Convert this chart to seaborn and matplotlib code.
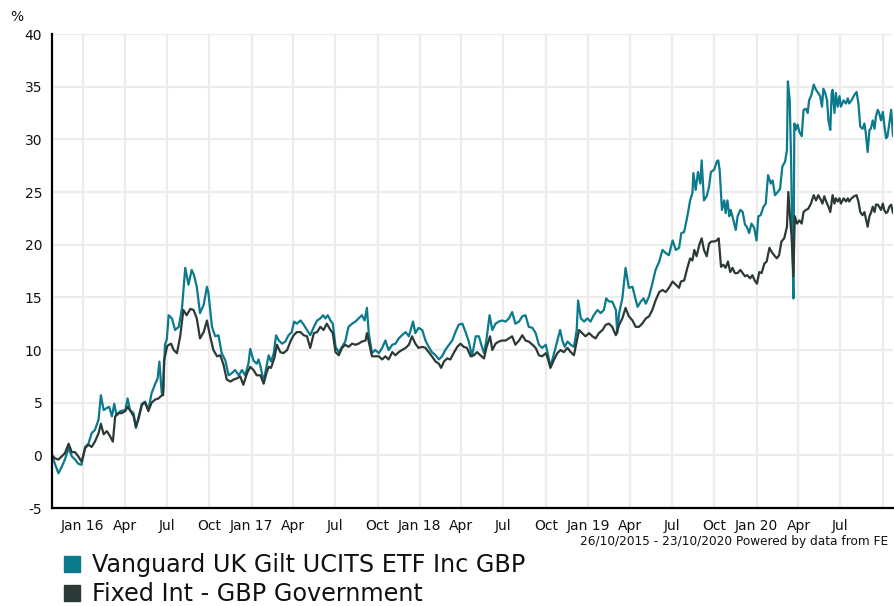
import matplotlib
matplotlib.use("Agg")
import matplotlib.pyplot as plt
import seaborn as sns
import pandas as pd
from matplotlib.lines import Line2D

# ---------------- data (cumulative % performance, days since 26/10/2015) ----------------
start_date = "2015-10-26"
end_date = "2020-10-23"

series_names = ["Vanguard UK Gilt UCITS ETF Inc GBP", "Fixed Int - GBP Government"]

teal_days = [
    0, 7, 14, 21, 28, 36, 43, 50, 57, 64,
    72, 79, 86, 93, 101, 106, 112, 119, 124, 130,
    135, 140, 148, 159, 164, 169, 177, 182, 188, 195,
    202, 209, 216, 224, 229, 233, 238, 241, 245, 249,
    253, 260, 267, 275, 282, 289, 296, 303, 308, 314,
    321, 329, 336, 339, 347, 354, 361, 368, 376, 383,
    390, 397, 405, 412, 419, 426, 430, 437, 444, 448,
    453, 459, 465, 470, 475, 481, 486, 492, 499, 506,
    513, 520, 525, 531, 539, 546, 553, 560, 568, 575,
    582, 588, 593, 598, 604, 609, 615, 622, 629, 636,
    643, 651, 658, 665, 672, 678, 683, 687, 694, 701,
    709, 716, 723, 730, 738, 745, 752, 759, 767, 774,
    783, 788, 795, 803, 810, 817, 824, 832, 839, 846,
    853, 861, 868, 875, 882, 890, 897, 904, 911, 919,
    926, 931, 937, 942, 949, 955, 962, 969, 976, 984,
    991, 998, 1005, 1013, 1020, 1027, 1034, 1042, 1049, 1056,
    1063, 1071, 1076, 1081, 1089, 1096, 1102, 1107, 1112, 1118,
    1125, 1132, 1138, 1141, 1147, 1154, 1161, 1168, 1175, 1183,
    1190, 1197, 1202, 1208, 1215, 1223, 1226, 1230, 1237, 1244,
    1251, 1259, 1264, 1270, 1277, 1283, 1288, 1295, 1302, 1309,
    1317, 1324, 1331, 1338, 1346, 1353, 1360, 1365, 1371, 1378,
    1384, 1389, 1391, 1396, 1401, 1406, 1409, 1414, 1420, 1425,
    1429, 1436, 1442, 1445, 1448, 1453, 1458, 1461, 1465, 1469,
    1472, 1478, 1483, 1487, 1493, 1498, 1503, 1507, 1512, 1517,
    1523, 1528, 1532, 1537, 1543, 1548, 1553, 1559, 1563, 1568,
    1574, 1579, 1584, 1590, 1594, 1596, 1600, 1603, 1605, 1608,
    1610, 1613, 1617, 1621, 1626, 1630, 1635, 1639, 1642, 1647,
    1652, 1657, 1662, 1666, 1670, 1673, 1677, 1681, 1684, 1688,
    1691, 1693, 1697, 1700, 1704, 1708, 1711, 1717, 1722, 1726,
    1729, 1734, 1740, 1745, 1749, 1753, 1758, 1762, 1765, 1769,
    1773, 1776, 1780, 1784, 1787, 1791, 1794, 1798, 1802, 1805,
    1809, 1812, 1816, 1820, 1824,
]
teal_vals = [
    0.0, -0.9, -1.7, -1.1, -0.4, 0.7, -0.1, -0.4, -0.8, -0.9,
    0.8, 1.1, 2.1, 2.4, 3.4, 5.7, 4.3, 4.5, 4.6, 3.7,
    4.9, 3.8, 4.2, 4.3, 5.4, 4.3, 4.0, 2.6, 3.7, 4.9,
    5.1, 4.3, 5.9, 6.8, 7.3, 8.9, 5.9, 6.0, 10.5, 11.0,
    13.3, 13.0, 11.9, 12.2, 14.0, 17.8, 16.2, 17.6, 17.1, 16.0,
    13.5, 14.3, 16.0, 15.5, 12.2, 11.3, 11.4, 9.7, 9.0, 7.6,
    7.8, 8.1, 7.6, 8.1, 7.6, 8.7, 10.1, 9.0, 8.7, 9.1,
    8.3, 7.0, 8.4, 9.5, 8.9, 9.7, 11.4, 10.9, 10.6, 10.8,
    11.4, 11.7, 12.7, 12.5, 12.8, 12.4, 11.9, 11.4, 12.2, 12.8,
    13.0, 13.3, 13.0, 13.3, 12.8, 12.5, 10.3, 9.8, 10.3, 10.8,
    12.2, 12.5, 12.7, 13.0, 13.3, 12.8, 14.0, 11.6, 9.7, 10.0,
    9.7, 10.2, 10.9, 10.0, 10.5, 10.6, 11.1, 11.4, 11.7, 11.3,
    12.7, 11.6, 12.1, 11.9, 10.9, 10.3, 9.8, 9.5, 9.1, 9.4,
    10.0, 10.5, 10.9, 11.7, 12.4, 12.5, 11.7, 10.8, 9.4, 11.3,
    11.3, 10.5, 9.7, 10.9, 13.3, 11.9, 12.5, 12.7, 12.8, 12.7,
    13.0, 13.6, 12.5, 12.7, 13.2, 13.3, 12.2, 12.1, 11.6, 10.5,
    10.2, 10.5, 9.5, 8.4, 9.7, 10.9, 11.9, 10.9, 10.3, 10.8,
    10.5, 10.3, 11.9, 14.7, 13.0, 12.7, 13.0, 12.7, 13.3, 13.8,
    13.5, 13.8, 14.9, 14.6, 14.6, 13.8, 11.6, 13.5, 14.9, 17.8,
    15.9, 16.0, 15.1, 14.1, 14.6, 14.9, 14.4, 15.1, 16.3, 17.6,
    18.4, 19.5, 19.2, 19.0, 20.4, 19.5, 19.7, 21.1, 21.2, 22.7,
    24.2, 24.9, 26.8, 25.2, 26.9, 25.8, 28.0, 24.2, 24.6, 25.5,
    26.9, 27.1, 27.9, 28.0, 27.1, 23.3, 24.2, 23.0, 24.2, 22.7,
    23.3, 22.3, 21.4, 22.7, 23.3, 23.1, 21.9, 21.7, 21.1, 22.0,
    21.6, 20.4, 22.7, 22.8, 23.6, 23.9, 26.6, 25.8, 26.1, 24.7,
    25.0, 25.3, 27.4, 27.9, 29.0, 35.5, 33.7, 28.0, 22.3, 14.9,
    31.5, 30.9, 31.4, 30.7, 30.3, 32.8, 32.9, 32.5, 33.7, 34.2,
    35.2, 34.7, 34.4, 34.1, 33.1, 34.8, 34.4, 33.7, 31.8, 30.9,
    34.4, 34.7, 32.5, 34.4, 33.1, 34.1, 33.1, 33.7, 33.4, 33.9,
    33.4, 33.7, 34.2, 34.5, 33.4, 31.2, 31.0, 31.5, 30.6, 28.8,
    30.9, 31.0, 31.8, 31.0, 32.2, 32.8, 32.5, 31.8, 32.6, 31.4,
    30.1, 30.3, 31.5, 32.8, 30.3,
]

dark_days = [
    0, 7, 14, 21, 28, 36, 43, 50, 57, 64,
    72, 79, 86, 93, 101, 106, 112, 119, 126, 132,
    137, 144, 151, 159, 164, 169, 177, 182, 188, 195,
    202, 209, 216, 224, 231, 238, 241, 243, 250, 258,
    264, 271, 278, 285, 292, 300, 307, 314, 321, 329,
    336, 343, 350, 358, 365, 372, 379, 387, 394, 401,
    408, 415, 423, 430, 437, 444, 452, 459, 465, 470,
    475, 482, 488, 495, 502, 510, 517, 524, 531, 539,
    546, 553, 560, 568, 575, 582, 589, 596, 604, 609,
    615, 622, 629, 636, 643, 651, 658, 665, 672, 680,
    683, 687, 694, 701, 709, 716, 723, 730, 738, 745,
    752, 759, 767, 774, 781, 788, 795, 803, 810, 817,
    824, 832, 839, 844, 850, 857, 864, 871, 879, 886,
    893, 900, 908, 915, 922, 929, 937, 942, 950, 955,
    962, 969, 976, 984, 991, 998, 1005, 1013, 1020, 1027,
    1034, 1042, 1049, 1056, 1063, 1071, 1076, 1081, 1089, 1096,
    1103, 1110, 1118, 1125, 1132, 1138, 1143, 1150, 1157, 1165,
    1172, 1179, 1186, 1194, 1201, 1208, 1215, 1223, 1230, 1237,
    1244, 1251, 1259, 1266, 1273, 1280, 1288, 1295, 1302, 1309,
    1317, 1324, 1331, 1338, 1346, 1353, 1360, 1364, 1371, 1378,
    1384, 1389, 1393, 1398, 1404, 1409, 1414, 1420, 1425, 1430,
    1436, 1442, 1446, 1451, 1456, 1461, 1466, 1471, 1476, 1481,
    1487, 1493, 1498, 1503, 1508, 1514, 1519, 1524, 1529, 1534,
    1539, 1545, 1550, 1556, 1561, 1566, 1572, 1577, 1582, 1588,
    1594, 1597, 1600, 1604, 1608, 1611, 1616, 1621, 1626, 1630,
    1635, 1640, 1646, 1652, 1657, 1662, 1668, 1671, 1675, 1679,
    1684, 1688, 1693, 1697, 1700, 1704, 1708, 1711, 1717, 1722,
    1726, 1729, 1734, 1740, 1745, 1749, 1753, 1758, 1762, 1765,
    1769, 1773, 1776, 1780, 1784, 1787, 1791, 1794, 1798, 1802,
    1805, 1809, 1812, 1816, 1820, 1824,
]
dark_vals = [
    0.0, -0.3, -0.4, -0.1, 0.2, 1.1, 0.3, 0.3, -0.1, -0.6,
    0.7, 1.0, 0.8, 1.3, 2.1, 3.0, 2.0, 2.3, 1.8, 1.3,
    3.7, 4.0, 4.0, 4.2, 4.6, 4.3, 3.7, 2.7, 3.5, 4.8,
    5.0, 4.2, 5.0, 5.3, 5.4, 5.7, 5.7, 9.0, 10.4, 10.6,
    10.0, 9.7, 11.3, 13.8, 13.3, 13.9, 13.8, 13.0, 11.1, 11.7,
    12.8, 11.3, 10.0, 9.4, 9.5, 8.6, 7.2, 7.0, 7.2, 7.3,
    7.5, 6.7, 7.8, 8.4, 8.1, 7.6, 7.6, 6.8, 7.8, 8.4,
    8.3, 9.2, 10.5, 9.8, 9.7, 10.0, 10.8, 11.4, 11.7, 11.7,
    11.4, 11.3, 10.2, 11.6, 11.7, 12.2, 11.9, 12.5, 11.9, 11.6,
    9.8, 9.5, 10.2, 10.5, 10.3, 10.6, 10.5, 10.6, 10.8, 10.9,
    11.6, 10.8, 9.4, 9.4, 9.4, 9.1, 9.4, 9.1, 9.8, 9.5,
    9.8, 10.0, 10.2, 10.5, 11.3, 10.6, 10.2, 10.3, 10.2, 9.8,
    9.4, 8.9, 8.7, 8.3, 8.9, 9.2, 9.1, 9.7, 10.3, 10.6,
    10.3, 10.2, 9.4, 9.5, 9.8, 9.5, 9.2, 10.2, 11.3, 10.0,
    10.6, 10.8, 10.9, 10.9, 11.1, 11.3, 10.5, 10.9, 11.4, 10.9,
    10.8, 10.5, 10.2, 9.5, 9.4, 9.7, 9.1, 8.3, 9.1, 9.7,
    10.0, 9.8, 10.2, 9.8, 9.5, 10.8, 11.9, 11.6, 11.3, 11.6,
    11.3, 11.1, 11.6, 11.9, 12.4, 12.5, 12.2, 11.4, 12.4, 13.0,
    14.0, 13.2, 12.8, 12.2, 12.2, 12.5, 13.0, 13.2, 13.8, 14.7,
    15.5, 15.7, 15.5, 15.9, 16.5, 16.2, 15.9, 16.5, 16.6, 17.8,
    18.7, 18.5, 19.5, 18.9, 20.0, 20.6, 19.5, 18.9, 20.1, 20.3,
    20.3, 20.4, 20.6, 17.9, 18.1, 17.8, 18.4, 17.4, 17.8, 17.3,
    17.3, 17.6, 17.3, 17.0, 17.1, 16.8, 17.1, 16.6, 16.3, 17.4,
    17.3, 18.2, 18.4, 19.7, 19.3, 19.0, 18.7, 19.0, 20.3, 20.6,
    21.7, 25.0, 23.0, 20.8, 17.0, 22.7, 22.0, 22.3, 22.0, 23.1,
    23.3, 23.4, 23.9, 24.7, 24.2, 24.7, 24.2, 23.9, 24.6, 24.1,
    23.6, 23.1, 24.7, 23.9, 24.4, 24.1, 24.4, 23.9, 24.4, 24.1,
    24.4, 24.1, 24.4, 24.6, 24.7, 24.1, 23.1, 22.8, 23.1, 22.5,
    21.7, 22.7, 23.0, 23.6, 23.1, 23.8, 23.8, 23.6, 23.3, 23.9,
    23.3, 23.0, 23.1, 23.6, 23.8, 23.0,
]

y_ticks = [-5, 0, 5, 10, 15, 20, 25, 30, 35, 40]
x_tick_dates = [
    "2016-01-01", "2016-04-01", "2016-07-01", "2016-10-01",
    "2017-01-01", "2017-04-01", "2017-07-01", "2017-10-01",
    "2018-01-01", "2018-04-01", "2018-07-01", "2018-10-01",
    "2019-01-01", "2019-04-01", "2019-07-01", "2019-10-01",
    "2020-01-01", "2020-04-01", "2020-07-01", "2020-10-01",
]
x_tick_labels = [
    "Jan 16", "Apr", "Jul", "Oct",
    "Jan 17", "Apr", "Jul", "Oct",
    "Jan 18", "Apr", "Jul", "Oct",
    "Jan 19", "Apr", "Jul", "Oct",
    "Jan 20", "Apr", "Jul", "",
]
footer_text = "26/10/2015 - 23/10/2020 Powered by data from FE"
colors = ["#0a7a8c", "#2c3a37"]

assert len(teal_days) == len(teal_vals)
assert len(dark_days) == len(dark_vals)

# ---------------- build frame ----------------
t0 = pd.Timestamp(start_date)
df = pd.concat([
    pd.DataFrame({"date": t0 + pd.to_timedelta(teal_days, unit="D"),
                  "value": teal_vals, "series": series_names[0]}),
    pd.DataFrame({"date": t0 + pd.to_timedelta(dark_days, unit="D"),
                  "value": dark_vals, "series": series_names[1]}),
], ignore_index=True)

sns.set_theme(style="white")
plt.rcParams["font.family"] = ["DejaVu Sans"]
plt.rcParams["axes.unicode_minus"] = False

W, H = 894, 606
fig = plt.figure(figsize=(W / 100, H / 100), dpi=100)
ax = fig.add_axes([52 / W, 1 - 508 / H, (893 - 52) / W, (508 - 34) / H])

sns.lineplot(data=df, x="date", y="value", hue="series", hue_order=series_names,
             palette=colors, linewidth=1.6, estimator=None, legend=False, ax=ax)

ax.set_xlim(pd.Timestamp(start_date), pd.Timestamp(end_date))
ax.set_ylim(-5, 40)
ax.set_yticks(y_ticks)
ax.set_xticks(pd.to_datetime(x_tick_dates))
ax.set_xticklabels(x_tick_labels)
ax.set_xlabel("")
ax.set_ylabel("")

ax.grid(True, color="#ececec", linewidth=1.6)
ax.set_axisbelow(True)
for s in ["top", "right"]:
    ax.spines[s].set_visible(False)
for s in ["left", "bottom"]:
    ax.spines[s].set_color("black")
    ax.spines[s].set_linewidth(1.6)
ax.tick_params(axis="both", direction="out", length=4, width=1.4, color="black",
               labelsize=10, labelcolor="#111111", pad=3)
ax.tick_params(axis="x", pad=4)

fig.text(10 / W, 1 - 17 / H, "%", fontsize=10, color="#111111", va="center", ha="left")
fig.text(888 / W, 1 - 541 / H, footer_text, fontsize=8.7, color="#111111",
         ha="right", va="center")

handles = [Line2D([], [], marker="s", linestyle="none", markersize=11,
                  markerfacecolor=c, markeredgecolor=c) for c in colors]
fig.legend(handles, series_names, loc="upper left", bbox_to_anchor=(60 / W, 1 - 553 / H),
           frameon=False, fontsize=17.2, handletextpad=0.35, labelspacing=0.22,
           handlelength=1.0, borderaxespad=0, borderpad=0, labelcolor="#111111")

fig.savefig("out.png", dpi=100)
